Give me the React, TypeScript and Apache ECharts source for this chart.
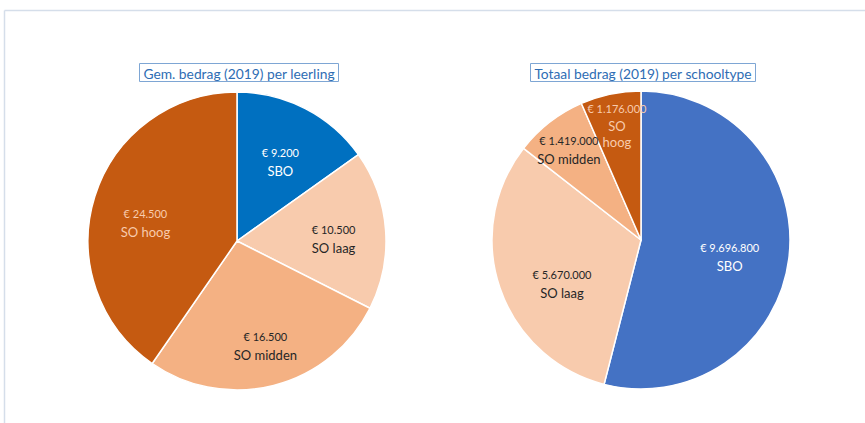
import React, { useEffect, useRef } from "react";
import * as echarts from "echarts";

// ---- data ----
const leftTitle = "Gem. bedrag (2019) per leerling";
const rightTitle = "Totaal bedrag (2019) per schooltype";
const categories = ["SBO", "SO laag", "SO midden", "SO hoog"];
const perLeerling = [9200, 10500, 16500, 24500];
const perSchooltype = [9696800, 5670000, 1419000, 1176000];

// ---- style ----
const W = 865;
const H = 423;
const FONT = "Lato, 'Open Sans', sans-serif";
const leftCenter = [237, 241];
const rightCenter = [641, 240];
const titleShift = -2;
const RADIUS = 149;
const leftColors = ["#0070C0", "#F8CBAD", "#F4B183", "#C55A11"];
const rightColors = ["#4472C4", "#F8CBAD", "#F4B183", "#C55A11"];
const labelColors = ["#FFFFFF", "#262626", "#262626", "#F8CBAD"];
const leftLabelRadius = [0.62, 0.65, 0.72, 0.63];
const rightLabelRadius = [0.6, 0.61, 0.79, 0.79];
const leftNudge = [[1, 3], [0, 5], [2, 1], [-2, 10]];
const rightNudge = [[0, 6], [7, 15], [0, 3], [0, 0]];
const rightWrapped = [false, false, false, true];

function fmt(v: number): string {
  return String(v).replace(/\B(?=(\d{3})+(?!\d))/g, ".");
}

function midAngles(values: number[]): number[] {
  const total = values.reduce((a, b) => a + b, 0);
  let cum = 0;
  return values.map((v) => {
    const mid = (cum + v / 2) / total;
    cum += v;
    return mid * Math.PI * 2;
  });
}

function buildSeries(
  values: number[],
  colors: string[],
  center: number[],
  labelR: number[],
  nudge: number[][],
  wrapped: boolean[]
) {
  const angles = midAngles(values);
  return {
    type: "pie",
    center,
    radius: RADIUS,
    startAngle: 90,
    clockwise: true,
    silent: true,
    label: {
      show: true,
      position: "inside",
      fontFamily: FONT,
    },
    labelLine: { show: false },
    labelLayout: (p: any) => {
      const i = p.dataIndex;
      const a = angles[i];
      const r = RADIUS * labelR[i];
      return {
        x: center[0] + r * Math.sin(a) + nudge[i][0],
        y: center[1] - r * Math.cos(a) + nudge[i][1],
        align: "center",
        verticalAlign: "middle",
      };
    },
    itemStyle: { borderColor: "#FFFFFF", borderWidth: 1.5 },
    data: values.map((v, i) => ({
      value: v,
      name: categories[i],
      itemStyle: { color: colors[i] },
      label: {
        formatter: () =>
          `{v|€ ${fmt(v)}}\n{n|${wrapped[i] ? categories[i].replace(" ", "\n") : categories[i]}}`,
        rich: {
          v: {
            fontSize: 11,
            lineHeight: 18,
            color: labelColors[i],
            fontFamily: FONT,
            align: "center",
          },
          n: {
            fontSize: 13,
            lineHeight: wrapped[i] ? 16 : 19,
            color: labelColors[i],
            fontFamily: FONT,
            align: "center",
          },
        },
      },
    })),
  };
}

export default function App() {
  const ref = useRef<HTMLDivElement>(null);
  useEffect(() => {
    if (!ref.current) return;
    const chart = echarts.init(ref.current, undefined, { renderer: "svg" });
    const titleStyle = {
      fontSize: 13.8,
      fontWeight: "normal",
      color: "#2E6DB4",
      fontFamily: FONT,
    };
    chart.setOption({
      animation: false,
      backgroundColor: "#FFFFFF",
      title: [
        {
          text: leftTitle,
          left: leftCenter[0] + titleShift,
          top: 63,
          textAlign: "center",
          borderColor: "#7EA6D4",
          borderWidth: 1,
          padding: [3, 4, 2, 4],
          textStyle: titleStyle,
        },
        {
          text: rightTitle,
          left: rightCenter[0] + titleShift,
          top: 63,
          textAlign: "center",
          borderColor: "#7EA6D4",
          borderWidth: 1,
          padding: [3, 4, 2, 4],
          textStyle: titleStyle,
        },
      ],
      graphic: [
        {
          type: "line",
          shape: { x1: 4.5, y1: 10.5, x2: W, y2: 10.5 },
          style: { stroke: "#D5DEEA", lineWidth: 1.5 },
        },
        {
          type: "line",
          shape: { x1: 4.5, y1: 10.5, x2: 4.5, y2: H },
          style: { stroke: "#D5DEEA", lineWidth: 1.5 },
        },
      ],
      series: [
        buildSeries(perLeerling, leftColors, leftCenter, leftLabelRadius, leftNudge, [false, false, false, false]),
        buildSeries(perSchooltype, rightColors, rightCenter, rightLabelRadius, rightNudge, rightWrapped),
      ],
    });
    return () => chart.dispose();
  }, []);
  return (
    <div
      ref={ref}
      style={{ position: "fixed", left: 0, top: 0, width: W, height: H, background: "#fff" }}
    />
  );
}
